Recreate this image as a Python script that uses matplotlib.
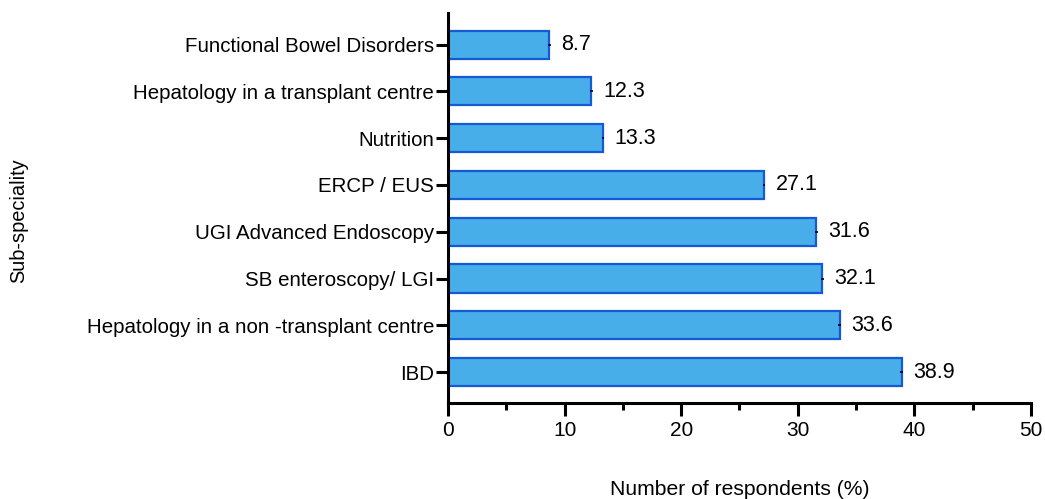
import matplotlib
matplotlib.use("Agg")
import matplotlib.pyplot as plt
import numpy as np

plt.rcParams['font.family'] = ['Liberation Sans', 'DejaVu Sans']

categories = ["IBD", "Hepatology in a non -transplant centre", "SB enteroscopy/ LGI",
              "UGI Advanced Endoscopy", "ERCP / EUS", "Nutrition",
              "Hepatology in a transplant centre", "Functional Bowel Disorders"]
values = [38.9, 33.6, 32.1, 31.6, 27.1, 13.3, 12.3, 8.7]
xticks = [0, 10, 20, 30, 40, 50]

fig = plt.figure(figsize=(10.45, 4.99), dpi=100)
ax = fig.add_axes([0.4287, 0.1924, 0.5579, 0.782])

y = np.arange(len(categories))
ax.barh(y, values, height=0.6, color='#48AEEA', edgecolor='#1459D6', linewidth=1.6, zorder=2)
ax.errorbar(values, y, xerr=0.12, fmt='none', ecolor='black', elinewidth=1.2, capsize=0, zorder=3)
for yi, v in zip(y, values):
    ax.text(v + 1.0, yi, f"{v}", va='center', ha='left', fontsize=15.5, color='black')

ax.set_xlim(0, 50)
ax.set_ylim(-0.66, 7.68)
ax.set_yticks(y)
ax.set_yticklabels(categories, fontsize=14.8)
ax.set_xticks(xticks)
ax.set_xticklabels([str(t) for t in xticks], fontsize=15)
ax.set_xticks(np.arange(5, 50, 10), minor=True)

for s in ['top', 'right']:
    ax.spines[s].set_visible(False)
for s in ['left', 'bottom']:
    ax.spines[s].set_linewidth(2.2)
ax.tick_params(axis='x', which='major', width=2.2, length=9, pad=4)
ax.tick_params(axis='x', which='minor', width=2.2, length=5)
ax.tick_params(axis='y', which='major', width=2.2, length=9, pad=1)

ax.set_xlabel("Number of respondents (%)", fontsize=15.2)
ax.xaxis.set_label_coords(0.5, -0.198)
ax.set_ylabel("Sub-speciality", fontsize=14.4)
ax.yaxis.set_label_coords(-0.72, 0.468)

fig.savefig("out.png", dpi=100)
